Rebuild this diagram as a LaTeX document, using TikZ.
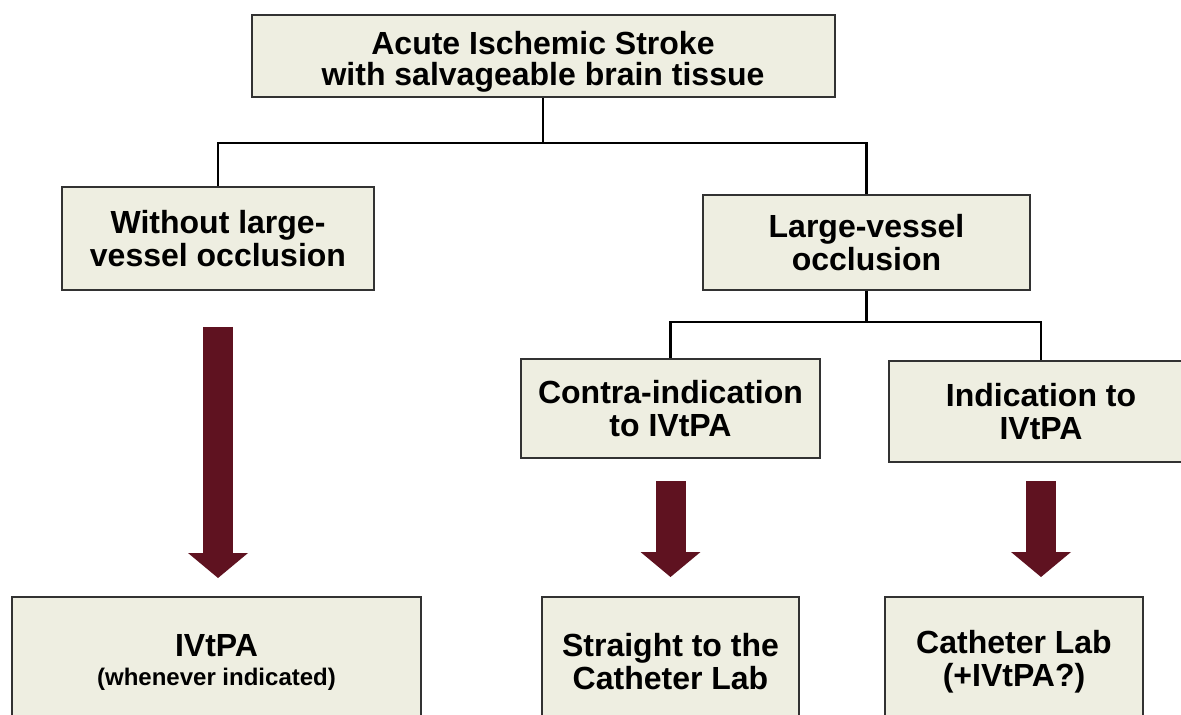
\documentclass[tikz,border=0pt]{standalone}
\usepackage{fontspec}
\setmainfont{Liberation Sans}
\usetikzlibrary{arrows.meta,calc}
\definecolor{boxfill}{RGB}{238,238,225}
\definecolor{boxline}{RGB}{50,50,50}
\definecolor{arrowred}{RGB}{95,18,32}

\begin{document}
\begin{tikzpicture}[x=0.5pt,y=-0.5pt,
  box/.style={draw=boxline, line width=1pt, fill=boxfill, align=center,
    font=\bfseries\fontsize{16}{16.5}\selectfont, inner sep=0pt},
  link/.style={draw=black, line width=1.2pt},
  bigarrow/.style={draw=arrowred, line width=15pt,
    -{Triangle[width=30pt,length=12.5pt,line width=0pt]}}]

\useasboundingbox (0,0) rectangle (1181,715);

% decision boxes
\node[box, minimum width=291.5pt, minimum height=41pt,
  font=\bfseries\fontsize{16}{15.5}\selectfont] (top) at (543,56)
  {\rule{0pt}{17.5pt}Acute Ischemic Stroke\\with salvageable brain tissue};
\node[box, minimum width=156pt, minimum height=51.5pt] (wo) at (218,238.5)
  {Without large-\\vessel occlusion};
\node[box, minimum width=163.5pt, minimum height=47.5pt] (lvo) at (866.5,242.5)
  {Large-vessel\\occlusion};
\node[box, minimum width=149.5pt, minimum height=49.5pt] (contra) at (670.5,408.5)
  {Contra-indication\\to IVtPA};
\node[box, minimum width=152pt, minimum height=50.5pt] (ind) at (1041,411.5)
  {Indication to\\IVtPA};

% outcome boxes
\node[box, minimum width=204.5pt, minimum height=65pt] (tpa) at (216.5,662)
  {IVtPA\\[-2pt]{\fontsize{12}{13}\selectfont (whenever indicated)}};
\node[box, minimum width=128.5pt, minimum height=65pt] (straight) at (670.5,662)
  {Straight to the\\Catheter Lab};
\node[box, minimum width=129pt, minimum height=65pt] (cath) at (1014,662)
  {Catheter Lab\\(+IVtPA?)};

% tree connectors
\coordinate (j0) at (543,143);
\coordinate (j1) at (866.5,322);
\draw[link] (top.south) -- (j0);
\draw[link] (wo.north) |- (j0) -| (lvo.north);
\draw[link] (lvo.south) -- (j1);
\draw[link] (contra.north) |- (j1) -| (ind.north);

% thick arrows to the outcomes
\coordinate (a1s) at ($(wo.south)+(0,36)$);
\coordinate (a1e) at ($(tpa.north)+(0,-18)$);
\coordinate (a2s) at ($(contra.south)+(0,22)$);
\coordinate (a2e) at ($(straight.north)+(0,-19)$);
\coordinate (a3s) at ($(ind.south)+(0,18)$);
\coordinate (a3e) at ($(cath.north)+(0,-19)$);
\draw[bigarrow] (a1s) -- (a1s |- a1e);
\draw[bigarrow] (a2s) -- (a2s |- a2e);
\draw[bigarrow] (a3s) -- (a3s |- a3e);

\end{tikzpicture}
\end{document}
